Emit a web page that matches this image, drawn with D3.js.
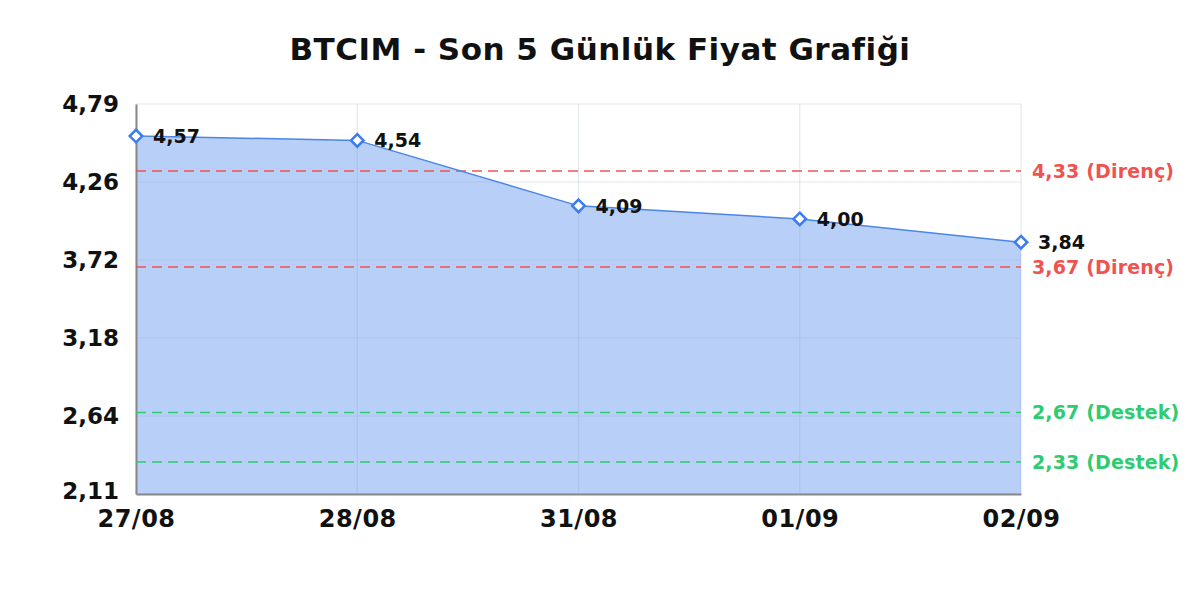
<!DOCTYPE html>
<html>
<head>
<meta charset="utf-8">
<script src="https://cdn.jsdelivr.net/npm/d3@7"></script>
<style>
  body { margin: 0; background: #fff; }
  text { font-family: "DejaVu Sans", sans-serif; font-weight: bold; }
</style>
</head>
<body>
<script>
var w = 1200;
var h = 600;

// data
var dates = ["27/08", "28/08", "31/08", "01/09", "02/09"];
var prices = [4.57, 4.54, 4.09, 4.00, 3.84];
var levelValues = [4.33, 3.67, 2.67, 2.33];
var levelTypes = ["Direnç", "Direnç", "Destek", "Destek"];
var yTickLabels = ["2,11", "2,64", "3,18", "3,72", "4,26", "4,79"];
var yMin = 2.11, yMax = 4.79;

var margin = { top: 104, right: 179, bottom: 106, left: 136 };
var iw = w - margin.left - margin.right;
var ih = h - margin.top - margin.bottom;

var fmt = function (v) { return v.toFixed(2).replace(".", ","); };

var xScale = d3.scalePoint().domain(dates).range([0, iw]);
var yScale = d3.scaleLinear().domain([yMin, yMax]).range([ih, 0]);
var yTicks = yTickLabels.map(function (d, i) {
  return yMin + (yMax - yMin) * i / (yTickLabels.length - 1);
});

var svg = d3.select("body").append("svg").attr("width", w).attr("height", h);

svg.append("text")
  .attr("x", w / 2)
  .attr("y", 60)
  .attr("text-anchor", "middle")
  .attr("font-size", "31px")
  .attr("letter-spacing", "0.5px")
  .attr("fill", "#111")
  .text("BTCIM - Son 5 Günlük Fiyat Grafiği");

var g = svg.append("g").attr("transform", "translate(" + margin.left + "," + margin.top + ")");

//Area
var data = dates.map(function (d, i) { return { date: d, value: prices[i] }; });
var area = d3.area()
  .x(function (d) { return xScale(d.date); })
  .y0(ih)
  .y1(function (d) { return yScale(d.value); });
g.append("path").datum(data).attr("d", area).attr("fill", "#b8cff8");

//Grid
g.selectAll(".hgrid").data(yTicks).enter().append("line")
  .attr("x1", 0).attr("x2", iw)
  .attr("y1", function (d) { return yScale(d); })
  .attr("y2", function (d) { return yScale(d); })
  .attr("stroke", "#8ea2c4").attr("stroke-opacity", 0.25).attr("stroke-width", 1.2);
g.selectAll(".vgrid").data(dates).enter().append("line")
  .attr("x1", function (d) { return xScale(d); })
  .attr("x2", function (d) { return xScale(d); })
  .attr("y1", 0).attr("y2", ih)
  .attr("stroke", "#8ea2c4").attr("stroke-opacity", 0.25).attr("stroke-width", 1.2);

//Axes
var yAxis = d3.axisLeft(yScale).tickValues(yTicks).tickSize(0)
  .tickFormat(function (d, i) { return yTickLabels[i]; });
var yg = g.append("g").call(yAxis);
yg.select(".domain").attr("stroke", "#888").attr("stroke-width", 2);
yg.selectAll("text").attr("font-size", "23px").attr("fill", "#111").attr("x", -17)
  .attr("font-family", "DejaVu Sans").attr("font-weight", "bold")
  .attr("dy", function (d, i) { return i === 0 ? "0.2em" : "0.33em"; });

var xAxis = d3.axisBottom(xScale).tickSize(0);
var xg = g.append("g").attr("transform", "translate(0," + ih + ")").call(xAxis);
xg.select(".domain").attr("stroke", "#888").attr("stroke-width", 2);
xg.selectAll("text").attr("font-size", "24px").attr("fill", "#111").attr("y", 16)
  .attr("letter-spacing", "0.5px")
  .attr("font-family", "DejaVu Sans").attr("font-weight", "bold");

//Support / resistance lines
var levelColor = function (t) { return t === "Direnç" ? "#ef5350" : "#2ecc71"; };
levelValues.forEach(function (v, i) {
  var c = levelColor(levelTypes[i]);
  g.append("line")
    .attr("x1", 0).attr("x2", iw)
    .attr("y1", yScale(v)).attr("y2", yScale(v))
    .attr("stroke", c).attr("stroke-width", 1.5)
    .attr("stroke-dasharray", "10,6");
  g.append("text")
    .attr("x", iw + 11).attr("y", yScale(v))
    .attr("dy", "0.35em")
    .attr("font-size", "19px")
    .attr("letter-spacing", "0.15px")
    .attr("fill", c)
    .text(fmt(v) + " (" + levelTypes[i] + ")");
});

//Line
var line = d3.line()
  .x(function (d) { return xScale(d.date); })
  .y(function (d) { return yScale(d.value); });
g.append("path").datum(data).attr("d", line)
  .attr("fill", "none").attr("stroke", "#4a86e8").attr("stroke-width", 1.5);

//Markers
var diamond = d3.symbol().type(d3.symbolDiamond2).size(100);
g.selectAll(".pt").data(data).enter().append("path")
  .attr("d", diamond)
  .attr("transform", function (d) { return "translate(" + xScale(d.date) + "," + yScale(d.value) + ")"; })
  .attr("fill", "#fff").attr("stroke", "#3b7cf0").attr("stroke-width", 2.5);

//Labels
g.selectAll(".lbl").data(data).enter().append("text")
  .attr("x", function (d) { return xScale(d.date) + 17; })
  .attr("y", function (d) { return yScale(d.value); })
  .attr("dy", "0.35em")
  .attr("font-size", "19px")
  .attr("fill", "#111")
  .text(function (d) { return fmt(d.value); });
</script>
</body>
</html>
